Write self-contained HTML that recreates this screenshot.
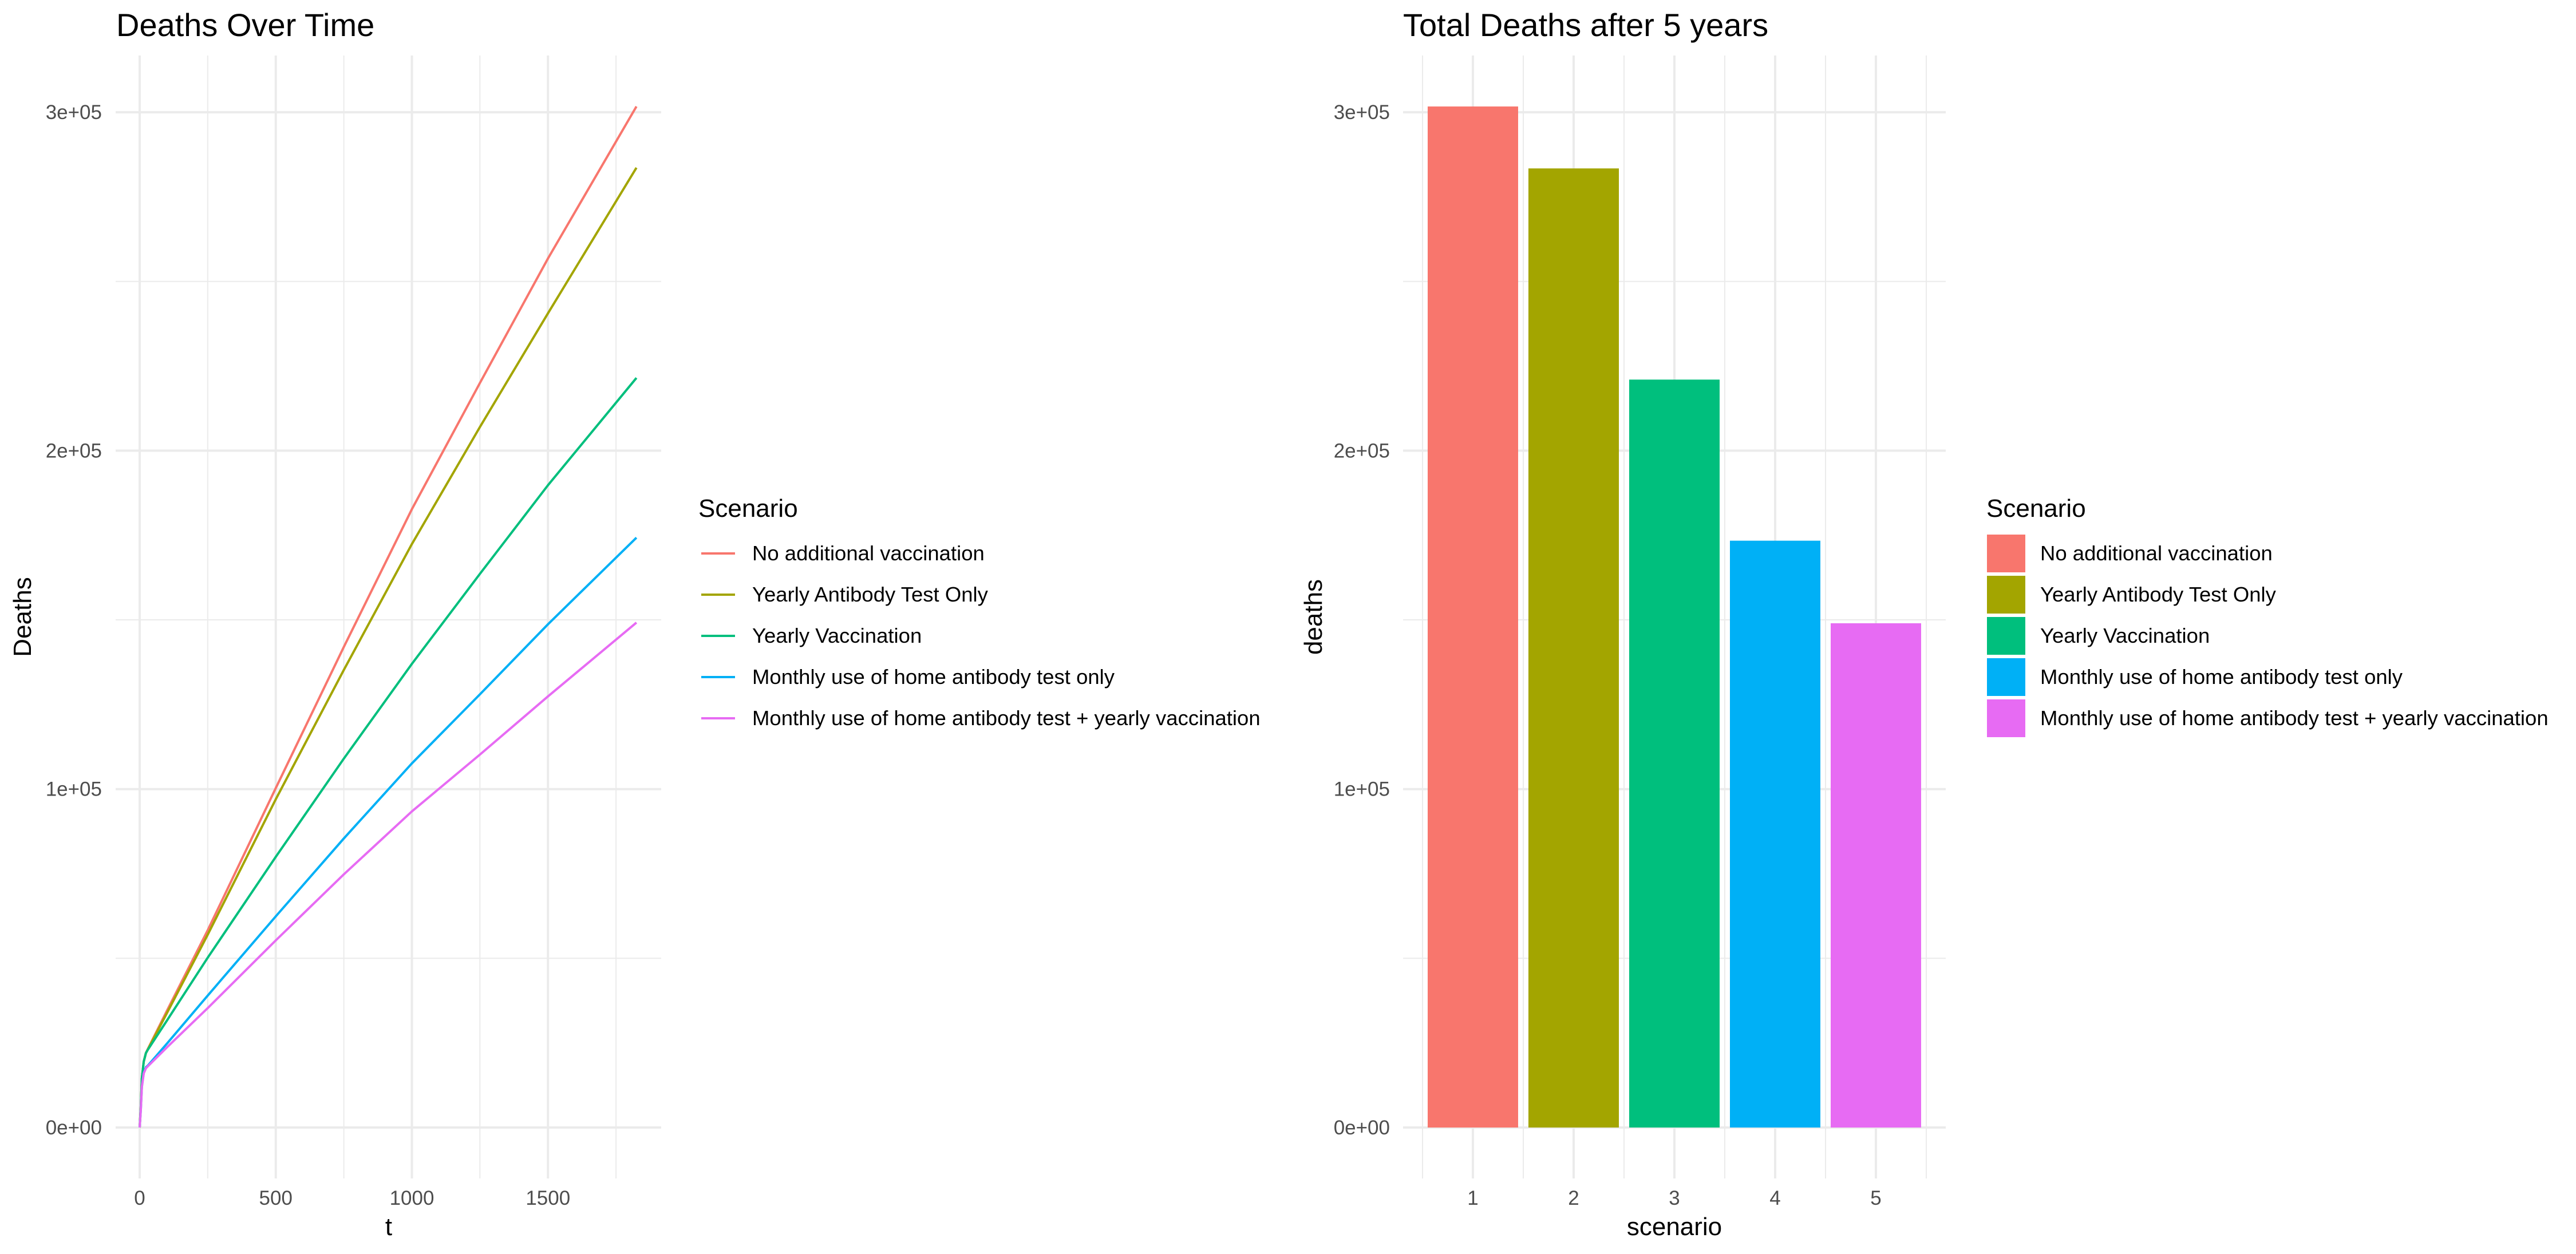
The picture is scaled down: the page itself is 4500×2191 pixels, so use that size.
<!DOCTYPE html>
<html><head><meta charset="utf-8">
<style>
html,body{margin:0;padding:0;background:#fff;}
svg{display:block;font-family:"Liberation Sans",sans-serif;}
</style></head>
<body>
<svg id="chart" width="4500" height="2191" viewBox="0 0 4500 2191" xmlns="http://www.w3.org/2000/svg">
<rect width="4500" height="2191" fill="#fff"/>
<g id="lp"></g>
<g id="rp"></g>
<text x="203" y="63" font-size="56" fill="#000">Deaths Over Time</text>
<text x="2451" y="63" font-size="56" fill="#000">Total Deaths after 5 years</text>
<text x="679" y="2158" font-size="44" text-anchor="middle" fill="#000">t</text>
<text x="2925" y="2158" font-size="44" text-anchor="middle" fill="#000">scenario</text>
<text transform="translate(54,1078) rotate(-90)" font-size="44" text-anchor="middle" fill="#000">Deaths</text>
<text transform="translate(2309,1078) rotate(-90)" font-size="44" text-anchor="middle" fill="#000">deaths</text>
<g id="leg1"></g>
<g id="leg2"></g>
</svg>
<script>
const scenarios = ["No additional vaccination","Yearly Antibody Test Only","Yearly Vaccination","Monthly use of home antibody test only","Monthly use of home antibody test + yearly vaccination"];
const colors = ["#F8766D","#A3A500","#00BF7D","#00B0F6","#E76BF3"];
const tValues = [0, 4, 8, 15, 23, 30, 100, 250, 500, 750, 1000, 1250, 1500, 1825];
const deathsNoVacc = [0, 6000, 14500, 19500, 22000, 23200, 34500, 58300, 100300, 142000, 182700, 220000, 256800, 301700];
const deathsYearlyTest = [0, 6000, 14500, 19500, 22000, 23100, 33800, 57000, 97000, 135200, 172400, 207000, 240600, 283600];
const deathsYearlyVacc = [0, 6000, 14500, 19500, 22000, 23000, 31600, 50200, 80000, 109000, 137000, 163600, 189800, 221500];
const deathsMonthlyTest = [0, 5000, 12000, 16200, 17800, 18300, 24800, 39000, 62400, 85400, 107600, 128000, 148700, 174300];
const deathsMonthlyTestVacc = [0, 5000, 12000, 16000, 17500, 18100, 23700, 35300, 55300, 74800, 93400, 110200, 127400, 149200];
const barCategories = [1,2,3,4,5];
const barValues = [301700, 283400, 221000, 173400, 149000];
const yTicks = [0, 100000, 200000, 300000];
const yTickLabels = ["0e+00","1e+05","2e+05","3e+05"];
const xTicks = [0, 500, 1000, 1500];
const xTickLabels = ["0","500","1000","1500"];

const NS="http://www.w3.org/2000/svg";
function mk(parent, tag, attrs){const e=document.createElementNS(NS,tag);for(const k in attrs)e.setAttribute(k,attrs[k]);parent.appendChild(e);return e;}
const yS = v => 1970 - v*0.005913;
const xT = t => 244 + t*0.4755;
const xB = c => 2573 + (c-1)*176;

const lp=document.getElementById('lp');
const L=202,R=1155,T=97,B=2059;
[50000,150000,250000].forEach(v=>{const e=mk(lp,'line',{x1:L,x2:R,y1:yS(v),y2:yS(v),stroke:'#ebebeb','stroke-width':2});

});
[250,750,1250,1750].forEach(v=>{const e=mk(lp,'line',{x1:xT(v),x2:xT(v),y1:T,y2:B,stroke:'#ebebeb','stroke-width':2});

});
yTicks.forEach((v,i)=>{const e=mk(lp,'line',{x1:L,x2:R,y1:yS(v),y2:yS(v),stroke:'#ebebeb','stroke-width':4});


const t=mk(lp,'text',{x:178,y:yS(v)+12,'font-size':35,fill:'#4d4d4d','text-anchor':'end'});t.textContent=yTickLabels[i];

});
xTicks.forEach((v,i)=>{const e=mk(lp,'line',{x1:xT(v),x2:xT(v),y1:T,y2:B,stroke:'#ebebeb','stroke-width':4});


const t=mk(lp,'text',{x:xT(v),y:2105,'font-size':35,fill:'#4d4d4d','text-anchor':'middle'});t.textContent=xTickLabels[i];

});
const series=[deathsNoVacc,deathsYearlyTest,deathsYearlyVacc,deathsMonthlyTest,deathsMonthlyTestVacc];
const snames=['line-no-vaccination','line-yearly-test','line-yearly-vaccination','line-monthly-test','line-monthly-test-vaccination'];
series.forEach((s,i)=>{const pts=s.map((v,j)=>xT(tValues[j]).toFixed(1)+','+yS(v).toFixed(1)).join(' ');
const e=mk(lp,'polyline',{points:pts,fill:'none',stroke:colors[i],'stroke-width':4,'stroke-linejoin':'round'});

});

const rp=document.getElementById('rp');
const L2=2451,R2=3399;
[50000,150000,250000].forEach(v=>{const e=mk(rp,'line',{x1:L2,x2:R2,y1:yS(v),y2:yS(v),stroke:'#ebebeb','stroke-width':2});

});
[0.5,1.5,2.5,3.5,4.5,5.5].forEach(c=>{const e=mk(rp,'line',{x1:xB(c),x2:xB(c),y1:T,y2:B,stroke:'#ebebeb','stroke-width':2});

});
yTicks.forEach((v,i)=>{const e=mk(rp,'line',{x1:L2,x2:R2,y1:yS(v),y2:yS(v),stroke:'#ebebeb','stroke-width':4});


const t=mk(rp,'text',{x:2428,y:yS(v)+12,'font-size':35,fill:'#4d4d4d','text-anchor':'end'});t.textContent=yTickLabels[i];

});
barCategories.forEach((c,i)=>{const e=mk(rp,'line',{x1:xB(c),x2:xB(c),y1:T,y2:B,stroke:'#ebebeb','stroke-width':4});


const t=mk(rp,'text',{x:xB(c),y:2105,'font-size':35,fill:'#4d4d4d','text-anchor':'middle'});t.textContent=String(c);

});
barCategories.forEach((c,i)=>{const y=yS(barValues[i]);
const e=mk(rp,'rect',{x:xB(c)-79,y:y,width:158,height:yS(0)-y,fill:colors[i]});

});

function legend(g,x0,type){
 const t=mk(g,'text',{x:x0,y:903,'font-size':44,fill:'#000'});t.textContent='Scenario';
 
 
 scenarios.forEach((s,i)=>{const cy=967+i*72;
  if(type==='line'){const k=mk(g,'line',{x1:x0+5,x2:x0+64,y1:cy,y2:cy,stroke:colors[i],'stroke-width':4});
   
   }
  else{const k=mk(g,'rect',{x:x0+1,y:cy-33,width:67,height:66,fill:colors[i]});
   
   }
  const tx=mk(g,'text',{x:x0+94,y:cy+12,'font-size':36.5,fill:'#000'});tx.textContent=s;
  
  });
}
legend(document.getElementById('leg1'),1220,'line');
legend(document.getElementById('leg2'),3470,'bar');
</script>
</body></html>
